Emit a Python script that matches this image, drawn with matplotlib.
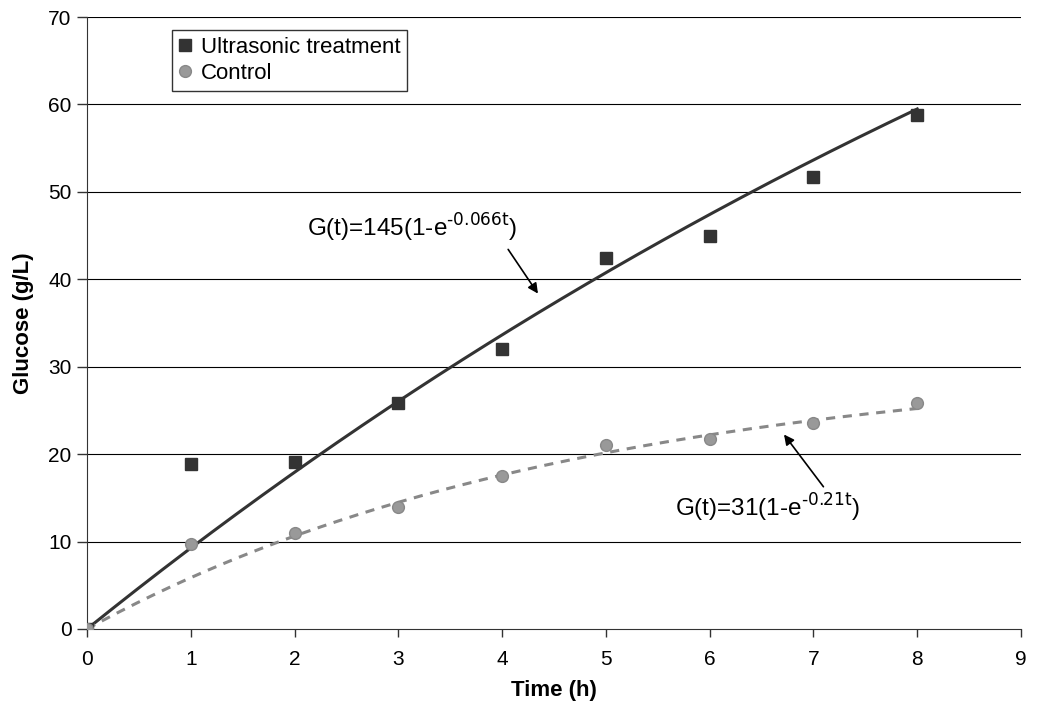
import matplotlib.pyplot as plt
import numpy as np

plt.rcParams['font.family'] = ['Liberation Sans', 'DejaVu Sans']

time_h = [0, 1, 2, 3, 4, 5, 6, 7, 8]
ultrasonic = [0, 18.9, 19.1, 25.8, 32.0, 42.4, 45.0, 51.7, 58.8]
control = [0, 9.7, 11.0, 13.9, 17.5, 21.1, 21.7, 23.6, 25.9]

# fitted model parameters G(t) = a(1 - exp(-k t))
fit_ultra = (145, 0.066)
fit_ctrl = (31, 0.21)

if __name__ == '__main__':
    fig = plt.figure(figsize=(10.41, 7.15), dpi=100)
    ax = fig.add_axes([0.0836, 0.1203, 0.8972, 0.8559])

    t = np.linspace(0, 8, 200)
    for y in range(10, 80, 10):
        ax.axhline(y, color='black', lw=0.8, zorder=0)

    ax.plot(t, fit_ultra[0] * (1 - np.exp(-fit_ultra[1] * t)), color='#333333', lw=2.2, zorder=2)
    ax.plot(t, fit_ctrl[0] * (1 - np.exp(-fit_ctrl[1] * t)), color='#888888', lw=2.2,
            ls=(0, (3, 2.5)), zorder=2)
    ax.plot(time_h, ultrasonic, 's', color='#333333', ms=8.5, label='Ultrasonic treatment', zorder=3)
    ax.plot(time_h, control, 'o', color='#999999', mec='#888888', ms=8.5, label='Control', zorder=4)

    ax.set_xlim(0, 9)
    ax.set_ylim(0, 70)
    ax.set_xticks(range(0, 10))
    ax.set_yticks(range(0, 80, 10))
    ax.tick_params(labelsize=15, width=1, color='#333333')
    ax.tick_params(axis='y', length=7, pad=4)
    ax.tick_params(axis='x', length=6, pad=9)
    ax.spines['top'].set_visible(False)
    ax.spines['right'].set_visible(False)
    ax.spines['left'].set_color('#333333')
    ax.spines['bottom'].set_color('#333333')
    ax.set_xlabel('Time (h)', fontsize=16, fontweight='bold', labelpad=8)
    ax.set_ylabel('Glucose (g/L)', fontsize=16, fontweight='bold', labelpad=10)

    ax.annotate(r'G(t)=145(1-e$^{\mathregular{\text{-0.066t}}}$)', xy=(4.36, 38.1), xytext=(2.12, 44.0),
                fontsize=17.5, ha='left', va='bottom',
                arrowprops=dict(arrowstyle='-|>', color='black', lw=1.2, mutation_scale=15,
                                relpos=(0.94, 0.0)))
    ax.annotate(r'G(t)=31(1-e$^{\mathregular{\text{-0.21t}}}$)', xy=(6.70, 22.5), xytext=(5.67, 15.7),
                fontsize=17.5, ha='left', va='top',
                arrowprops=dict(arrowstyle='-|>', color='black', lw=1.2, mutation_scale=15,
                                relpos=(0.82, 1.0)))

    leg = ax.legend(loc='upper left', bbox_to_anchor=(0.091, 0.979), fontsize=16, frameon=True,
                    fancybox=False, edgecolor='black', handlelength=0.6, handletextpad=0.4,
                    borderpad=0.3, labelspacing=0.25, borderaxespad=0)
    leg.get_frame().set_linewidth(1)

    plt.savefig('out.png', dpi=100)
